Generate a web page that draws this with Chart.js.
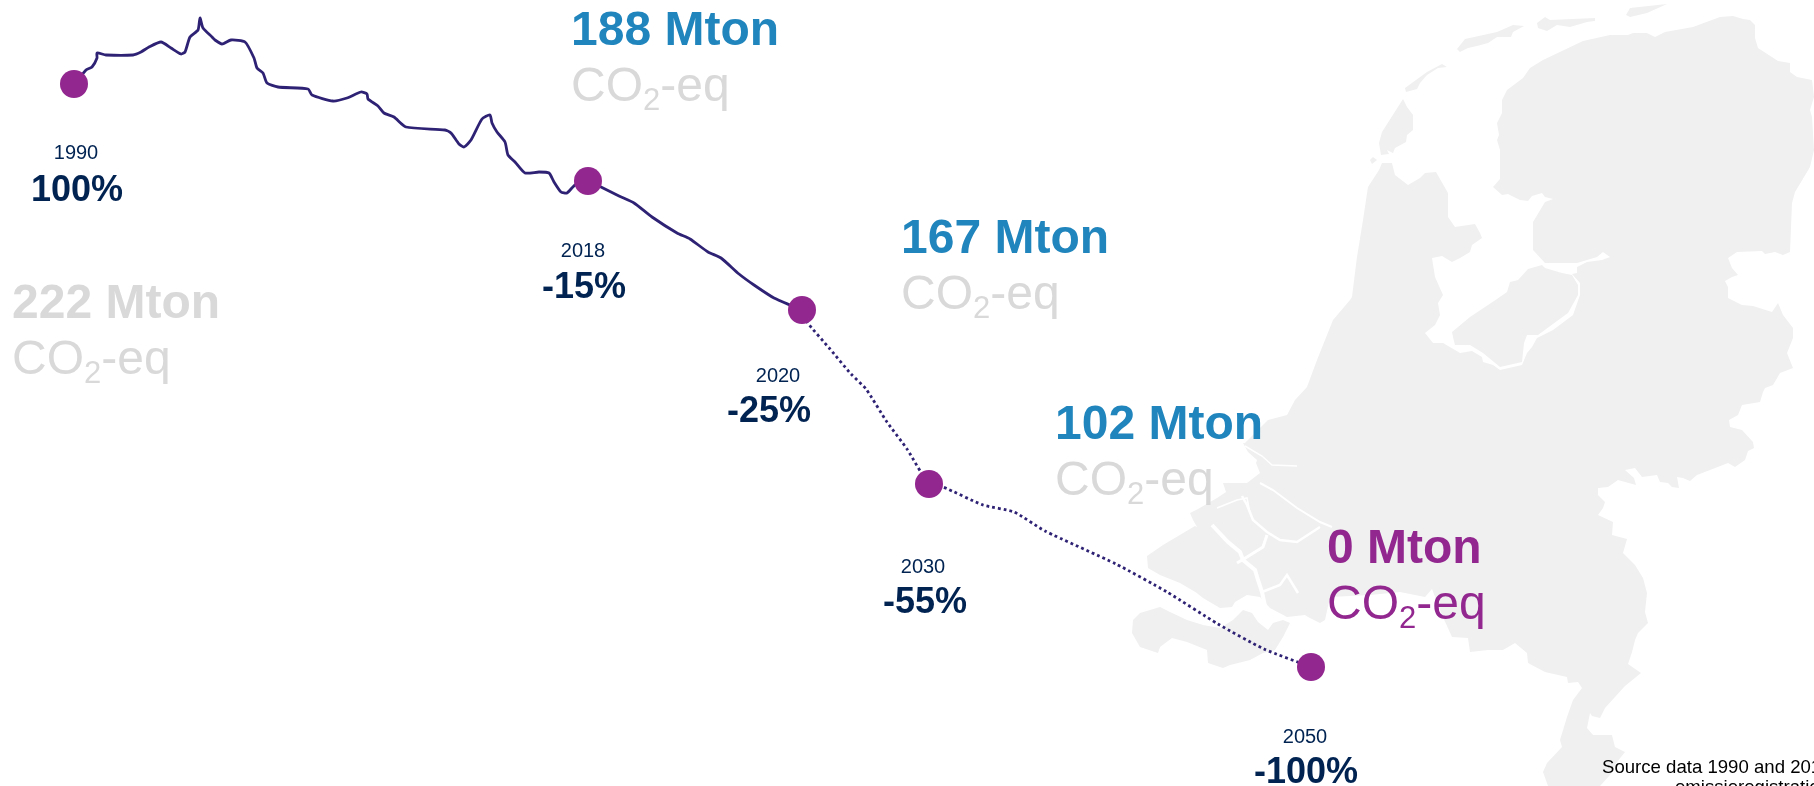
<!DOCTYPE html>
<html><head><meta charset="utf-8">
<style>html,body{margin:0;padding:0;background:#fff;overflow:hidden}canvas{display:block}</style>
<script src="https://cdn.jsdelivr.net/npm/chart.js@4"></script>
</head><body><canvas id="c" width="1814" height="786"></canvas>
<script>
// Milestones
const years = ['1990','2018','2020','2030','2050'];
const percents = ['100%','-15%','-25%','-55%','-100%'];
const mton = ['222 Mton','188 Mton','167 Mton','102 Mton','0 Mton'];
const unitParts = ['CO','2','-eq'];
const sourceLines = ['Source data 1990 and 2018','emissieregistratie'];
// Marker positions on the infographic path
const dotX = [74,588,802,929,1311];
const dotY = [84,181,310,484,667];
// Historic emissions path, 1990-2020
const solidX = [74,86,92,97,97,106,133,141,149,161,171,181,185,190,198,200,203,212,215,222,231,245,254,257,263,267,278,308,312,333,347,361,367,368,378,384,394,406,445,451,459,464,471,482,490,492,497,505,508,515,525,539,549,554,561,567,575,589,601,619,634,652,677,690,708,721,739,754,774,802];
const solidY = [85,70,67,58,53,55,55,52,47,42,48,54,52,37,30,18,28,37,40,44,40,42,58,68,73,83,87,89,95,101,98,92,94,99,106,113,117,127,130,133,144,147,140,119,115,123,132,142,155,162,173,172,173,182,192,193,185,181,187,196,203,217,233,239,252,258,274,285,298,310];
// Target path, 2020-2050
const dottedX = [802,807,830,851,866,887,907,929,943,983,1014,1045,1116,1167,1218,1264,1311];
const dottedY = [310,322,349,374,389,422,449,484,487,505,512,531,564,592,624,649,667];
// Map outline
const mainX = [1382,1392,1395,1408,1420,1425,1436,1448,1448,1455,1475,1480,1482,1472,1470,1460,1452,1442,1432,1435,1443,1438,1440,1435,1425,1433,1443,1455,1460,1472,1482,1483,1493,1500,1522,1527,1532,1537,1553,1573,1580,1580,1572,1577,1577,1587,1602,1610,1603,1597,1577,1545,1533,1533,1545,1553,1545,1542,1532,1528,1520,1508,1502,1493,1500,1500,1497,1499,1497,1502,1502,1507,1523,1530,1543,1583,1610,1628,1633,1647,1655,1665,1693,1720,1733,1743,1750,1755,1755,1758,1778,1790,1790,1797,1812,1814,1810,1812,1814,1810,1795,1792,1790,1783,1775,1765,1762,1737,1728,1732,1738,1732,1725,1728,1728,1742,1753,1772,1778,1783,1793,1793,1787,1793,1780,1773,1765,1763,1760,1742,1738,1729,1730,1742,1753,1754,1748,1745,1735,1728,1710,1697,1690,1683,1677,1679,1672,1668,1660,1657,1642,1635,1625,1634,1636,1618,1608,1598,1598,1605,1603,1598,1613,1612,1627,1623,1635,1643,1647,1645,1648,1638,1635,1632,1628,1641,1625,1615,1605,1600,1592,1590,1587,1593,1612,1615,1625,1617,1610,1600,1548,1543,1547,1562,1560,1567,1573,1582,1578,1568,1567,1545,1528,1527,1515,1503,1488,1470,1468,1452,1442,1432,1425,1400,1370,1330,1325,1320,1308,1305,1287,1270,1260,1247,1235,1232,1220,1203,1193,1197,1180,1160,1148,1147,1163,1195,1212,1200,1193,1190,1198,1217,1226,1223,1247,1260,1256,1257,1248,1243,1245,1268,1287,1295,1307,1317,1333,1350,1352,1357,1363,1368,1379,1380];
const mainY = [163,163,175,185,178,173,172,193,217,227,224,233,238,245,252,258,262,256,258,277,295,303,315,325,333,343,343,350,353,351,357,362,365,370,365,353,347,338,330,315,295,283,274,273,267,262,260,257,252,257,263,263,250,222,202,199,197,193,196,201,200,194,195,187,179,150,140,135,123,113,100,90,78,68,60,41,35,35,33,33,37,32,27,17,16,19,20,25,38,48,61,63,72,77,80,97,110,117,150,167,192,203,252,255,252,254,251,252,258,268,275,277,281,287,298,305,306,312,303,315,328,338,353,368,373,385,388,392,402,405,415,420,427,430,442,448,451,460,467,463,470,475,481,478,477,488,487,483,482,475,477,468,470,478,485,480,487,488,495,502,508,515,522,535,539,553,565,578,593,612,623,633,640,652,664,673,686,697,708,718,716,713,728,735,735,747,752,762,775,786,786,772,763,747,740,717,700,688,682,683,677,672,663,653,643,650,650,652,638,637,615,589,597,592,595,597,620,623,617,615,617,608,597,595,602,607,608,598,590,593,583,575,568,556,545,526,535,532,520,513,509,498,492,483,483,473,463,460,452,443,443,420,415,400,387,360,320,300,297,257,220,187,170];
const flevoX = [1452,1470,1497,1507,1510,1518,1528,1542,1545,1562,1572,1578,1578,1568,1557,1538,1527,1524,1522,1500,1483,1470,1455,1453];
const flevoY = [332,317,299,292,282,280,269,265,268,273,275,285,295,313,321,335,335,343,362,367,353,345,345,337];
const texelX = [1403,1407,1413,1413,1407,1406,1395,1393,1387,1389,1381,1379,1382];
const texelY = [99,107,115,130,135,142,148,153,150,154,155,143,132];
const vlielandX = [1405,1427,1442,1447,1438,1427,1420,1417,1406];
const vlielandY = [88,72,64,67,68,75,83,89,92];
const terschellingX = [1457,1465,1497,1513,1524,1513,1511,1497,1488,1477,1468,1460];
const terschellingY = [49,39,32,25,26,32,37,37,43,46,48,52];
const amelandX = [1537,1545,1550,1595,1595,1587,1570,1557,1547,1538];
const amelandY = [23,17,20,18,21,22,27,25,31,28];
const schierX = [1626,1630,1667,1647,1630];
const schierY = [15,8,4,13,17];
const smallX = [1370,1373,1377,1372];
const smallY = [160,157,160,164];
const zeeFlandersX = [1133,1140,1160,1170,1187,1203,1220,1233,1243,1252,1258,1268,1273,1283,1290,1283,1275,1263,1250,1230,1223,1208,1207,1187,1172,1160,1158,1140,1132];
const zeeFlandersY = [620,613,607,612,620,625,628,620,610,613,622,630,623,620,623,637,650,653,660,665,668,663,650,642,638,647,653,647,633];
// Estuaries crossing the delta
const waterwayAX = [1245,1262,1272,1297];
const waterwayAY = [446,456,465,466];
const waterwayBX = [1260,1273,1297,1320,1332];
const waterwayBY = [483,490,508,522,527];
const waterwayCX = [1242,1247,1253,1267,1280,1297,1320];
const waterwayCY = [496,505,520,532,540,542,527];
const waterwayDX = [1217,1237,1247,1250];
const waterwayDY = [508,500,498,513];
const waterwayEX = [1267,1263,1247,1237];
const waterwayEY = [535,547,557,563];
const waterwayFX = [1212,1228,1240,1243,1255,1258,1262,1265];
const waterwayFY = [525,542,552,560,570,580,592,606];
const waterwayGX = [1262,1280,1287,1298];
const waterwayGY = [592,585,575,593];

const zip = (xs, ys) => xs.map((x, i) => ({x, y: ys[i]}));
const LAND = '#f0f0f0';
const land = (xs, ys) => ({type:'scatter', data:zip(xs,ys), showLine:true, borderWidth:0, borderColor:LAND,
  backgroundColor:LAND, fill:'shape', pointRadius:0, order:10});
const water = (xs, ys, w) => ({type:'scatter', data:zip(xs,ys), showLine:true, borderWidth:w, borderColor:'#ffffff',
  fill:false, pointRadius:0, order:9});

const NAVY = '#002352', BLUE = '#2185bd', GREY = '#d9d9d9', PURPLE = '#92278f';
const FONT = '"Liberation Sans", Arial, sans-serif';
const mtonX = [12,571,901,1055,1327];
const mtonBase = [318,45,253,439,563];
const mtonColor = [GREY,BLUE,BLUE,BLUE,PURPLE];
const unitColor = [GREY,GREY,GREY,GREY,PURPLE];
const yearCenter = [76,583,778,923,1305];
const yearBase = [159,257,382,573,743];
const pctCenter = [77,584,769,925,1306];
const pctBase = [201,298,422,613,783];

const textPlugin = {
  id:'texts',
  afterDatasetsDraw(chart){
    const {ctx, scales:{x:sx, y:sy}} = chart;
    const put = (t, x, y, font, color, align) => {
      ctx.font = font; ctx.fillStyle = color; ctx.textAlign = align || 'left'; ctx.textBaseline = 'alphabetic';
      ctx.fillText(t, sx.getPixelForValue(x), sy.getPixelForValue(y));
    };
    ctx.save();
    mton.forEach((m, i) => {
      put(m, mtonX[i], mtonBase[i], 'bold 48px '+FONT, mtonColor[i]);
      let x = mtonX[i]; const b = mtonBase[i] + 56;
      put(unitParts[0], x, b, '48px '+FONT, unitColor[i]);
      x += ctx.measureText(unitParts[0]).width;
      put(unitParts[1], x, b + 9, '31px '+FONT, unitColor[i]);
      x += ctx.measureText(unitParts[1]).width;
      put(unitParts[2], x, b, '48px '+FONT, unitColor[i]);
    });
    years.forEach((y, i) => put(y, yearCenter[i], yearBase[i], '20px '+FONT, NAVY, 'center'));
    percents.forEach((p, i) => put(p, pctCenter[i], pctBase[i], 'bold 36px '+FONT, NAVY, 'center'));
    put(sourceLines[0], 1602, 773, '18.6px '+FONT, '#000000');
    put(sourceLines[1], 1675, 793, '18.6px '+FONT, '#000000');
    ctx.restore();
  }
};

new Chart(document.getElementById('c'), {
  type:'scatter',
  data:{datasets:[
    land(mainX,mainY), land(flevoX,flevoY), land(texelX,texelY), land(vlielandX,vlielandY),
    land(terschellingX,terschellingY), land(amelandX,amelandY), land(schierX,schierY), land(smallX,smallY),
    land(zeeFlandersX,zeeFlandersY),
    water(waterwayAX,waterwayAY,1.5), water(waterwayBX,waterwayBY,2), water(waterwayCX,waterwayCY,2.5),
    water(waterwayDX,waterwayDY,1.5), water(waterwayEX,waterwayEY,3), water(waterwayFX,waterwayFY,4), water(waterwayGX,waterwayGY,2.5),
    {type:'scatter', data:zip(solidX,solidY), showLine:true, borderColor:'#2e2274', borderWidth:2.8, fill:false, pointRadius:0, order:3, borderJoinStyle:'round', tension:0.2},
    {type:'scatter', data:zip(dottedX,dottedY), showLine:true, borderColor:'#2e2274', borderWidth:2.8, borderDash:[2.8,3], fill:false, pointRadius:0, order:2, tension:0.2},
    {type:'scatter', data:zip(dotX,dotY), showLine:false, pointRadius:14, pointBackgroundColor:PURPLE, pointBorderWidth:0, order:1}
  ]},
  options:{
    responsive:false, animation:false, events:[],
    layout:{padding:0, autoPadding:false},
    plugins:{legend:{display:false}, tooltip:{enabled:false}, title:{display:false}},
    scales:{
      x:{type:'linear', min:0, max:1814, display:false},
      y:{type:'linear', min:0, max:786, reverse:true, display:false}
    }
  },
  plugins:[textPlugin]
});
</script></body></html>
